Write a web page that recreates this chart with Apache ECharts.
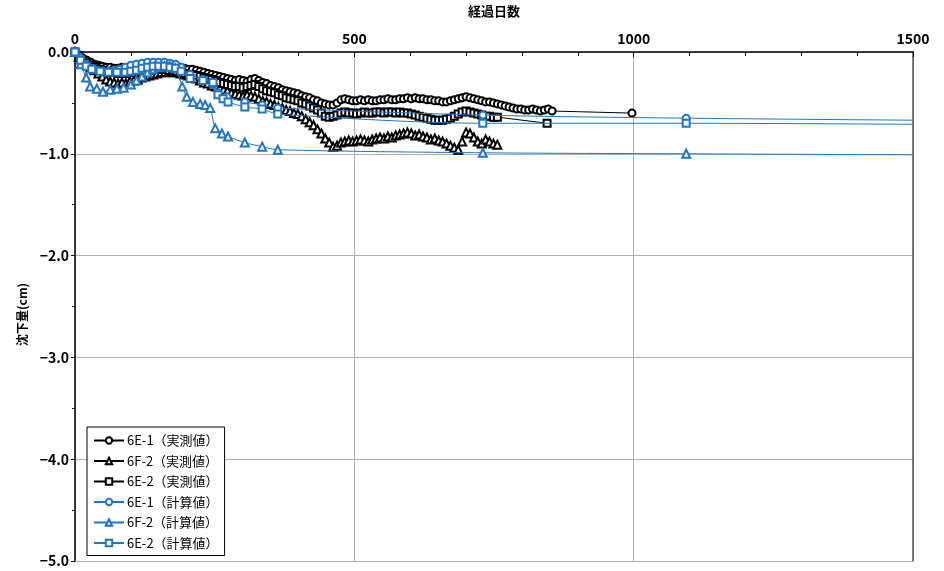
<!DOCTYPE html>
<html>
<head>
<meta charset="utf-8">
<script src="https://cdn.jsdelivr.net/npm/echarts@6/dist/echarts.min.js"></script>
<style>
  html, body { margin: 0; padding: 0; background: #fff; }
  #chart { width: 944px; height: 571px; }
</style>
</head>
<body>
<div id="chart"></div>
<script>
// Survey days shared by the measured settlement records
const surveyDays = [
  0, 7, 14, 21, 28, 35, 42, 49, 56, 63,
  70, 77, 84, 91, 98, 105, 112, 119, 126, 133,
  140, 147, 154, 161, 168, 175, 182, 189, 196, 203,
  210, 217, 224, 231, 238, 245, 252, 259, 266, 273,
  280, 287, 294, 301, 308, 315, 322, 329, 336, 343,
  350, 357, 364, 371, 378, 385, 392, 399, 406, 413,
  420, 427, 434, 441, 448, 455, 462, 469, 476, 483,
  490, 497, 504, 511, 518, 525, 532, 539, 546, 553,
  560, 567, 574, 581, 588, 595, 602, 609, 616, 623,
  630, 637, 644, 651, 658, 665, 672, 679, 686, 693,
  700, 707, 714, 721, 728, 735, 742, 749, 756
];
const e1LateDays = [763, 770, 777, 784, 791, 798, 805, 812, 819, 826, 833, 840, 847, 854, 997];
const e2LateDays = [845];

// Measured settlement (cm)
const measE1 = [
  0, -0.03, -0.06, -0.08, -0.10, -0.12, -0.13, -0.14, -0.15, -0.15,
  -0.16, -0.16, -0.15, -0.16, -0.15, -0.14, -0.14, -0.13, -0.13, -0.12,
  -0.12, -0.13, -0.12, -0.13, -0.13, -0.14, -0.14, -0.15, -0.16, -0.17,
  -0.17, -0.18, -0.19, -0.20, -0.21, -0.22, -0.23, -0.24, -0.25, -0.26,
  -0.27, -0.28, -0.27, -0.28, -0.29, -0.27, -0.26, -0.28, -0.30, -0.31,
  -0.33, -0.34, -0.35, -0.37, -0.38, -0.39, -0.40, -0.41, -0.43, -0.44,
  -0.45, -0.47, -0.48, -0.50, -0.51, -0.52, -0.52, -0.50, -0.47, -0.46,
  -0.47, -0.48, -0.48, -0.47, -0.48, -0.47, -0.48, -0.48, -0.47, -0.47,
  -0.46, -0.47, -0.47, -0.46, -0.46, -0.45, -0.46, -0.45, -0.46, -0.46,
  -0.47, -0.47, -0.48, -0.48, -0.49, -0.49, -0.48, -0.47, -0.46, -0.45,
  -0.44, -0.45, -0.46, -0.47, -0.48, -0.49, -0.49, -0.50, -0.51
];
const measE1Late = [-0.52, -0.53, -0.54, -0.55, -0.56, -0.56, -0.57, -0.57, -0.56, -0.57, -0.58, -0.57, -0.56, -0.58, -0.60];

const measF2 = [
  0, -0.05, -0.09, -0.12, -0.15, -0.18, -0.21, -0.24, -0.27, -0.29,
  -0.30, -0.31, -0.30, -0.31, -0.29, -0.28, -0.27, -0.25, -0.24, -0.23,
  -0.22, -0.21, -0.20, -0.20, -0.19, -0.20, -0.20, -0.21, -0.22, -0.23,
  -0.24, -0.26, -0.28, -0.30, -0.31, -0.33, -0.34, -0.35, -0.37, -0.38,
  -0.40, -0.41, -0.42, -0.43, -0.42, -0.43, -0.44, -0.46, -0.48, -0.49,
  -0.51, -0.52, -0.54, -0.55, -0.57, -0.58, -0.60, -0.61, -0.63, -0.66,
  -0.69, -0.72, -0.76, -0.80, -0.85, -0.89, -0.93, -0.92, -0.89, -0.88,
  -0.87, -0.88, -0.87, -0.86, -0.87, -0.88, -0.86, -0.85, -0.84, -0.85,
  -0.83, -0.84, -0.82, -0.81, -0.80, -0.79, -0.80, -0.82, -0.81, -0.83,
  -0.84, -0.86, -0.85, -0.87, -0.88, -0.90, -0.92, -0.94, -0.96, -0.88,
  -0.79, -0.80, -0.84, -0.88, -0.90, -0.86, -0.88, -0.90, -0.91
];

const measE2 = [
  0, -0.04, -0.08, -0.11, -0.13, -0.15, -0.17, -0.18, -0.19, -0.20,
  -0.20, -0.21, -0.21, -0.21, -0.20, -0.20, -0.19, -0.19, -0.18, -0.18,
  -0.17, -0.17, -0.17, -0.17, -0.18, -0.18, -0.19, -0.20, -0.21, -0.22,
  -0.22, -0.23, -0.24, -0.25, -0.26, -0.27, -0.28, -0.30, -0.31, -0.32,
  -0.33, -0.34, -0.34, -0.35, -0.34, -0.33, -0.32, -0.34, -0.36, -0.38,
  -0.39, -0.40, -0.42, -0.43, -0.45, -0.46, -0.47, -0.48, -0.50, -0.51,
  -0.53, -0.55, -0.57, -0.60, -0.63, -0.64, -0.63, -0.62, -0.60, -0.59,
  -0.60, -0.60, -0.61, -0.60, -0.59, -0.60, -0.60, -0.59, -0.59, -0.60,
  -0.59, -0.59, -0.60, -0.59, -0.60, -0.60, -0.61, -0.62, -0.63, -0.64,
  -0.65, -0.66, -0.67, -0.67, -0.67, -0.66, -0.65, -0.63, -0.61, -0.59,
  -0.58, -0.59, -0.60, -0.61, -0.62, -0.63, -0.63, -0.64, -0.64
];
const measE2Late = [-0.70];

// Computed settlement (cm)
const calcE1Days = [0, 10, 20, 30, 40, 50, 60, 70, 80, 90, 100, 110, 120, 130, 140, 150, 160, 170, 180, 190, 206, 229, 247, 256, 272, 304, 335, 363, 730, 1094, 1500];
const calcE1 = [0, -0.06, -0.12, -0.16, -0.18, -0.19, -0.19, -0.18, -0.17, -0.15, -0.13, -0.12, -0.11, -0.10, -0.10, -0.10, -0.10, -0.11, -0.12, -0.15, -0.22, -0.27, -0.32, -0.40, -0.44, -0.49, -0.52, -0.55, -0.62, -0.65, -0.67];

const calcF2Days = [0, 10, 20, 27, 39, 50, 63, 75, 87, 100, 110, 120, 130, 140, 150, 160, 170, 180, 192, 200, 211, 224, 233, 242, 251, 263, 274, 304, 335, 363, 730, 1094, 1500];
const calcF2 = [0, -0.12, -0.25, -0.34, -0.36, -0.39, -0.37, -0.36, -0.35, -0.32, -0.28, -0.24, -0.20, -0.17, -0.15, -0.14, -0.14, -0.16, -0.34, -0.44, -0.49, -0.51, -0.52, -0.55, -0.75, -0.80, -0.83, -0.89, -0.93, -0.96, -0.99, -1.00, -1.01];

const calcE2Days = [0, 10, 20, 30, 45, 60, 75, 90, 100, 110, 120, 130, 140, 150, 160, 170, 180, 190, 206, 229, 247, 256, 265, 274, 304, 335, 363, 730, 1094, 1500];
const calcE2 = [0, -0.08, -0.14, -0.17, -0.19, -0.20, -0.20, -0.20, -0.19, -0.18, -0.16, -0.15, -0.14, -0.14, -0.14, -0.15, -0.16, -0.19, -0.26, -0.28, -0.30, -0.42, -0.46, -0.49, -0.54, -0.56, -0.61, -0.70, -0.70, -0.71];

const seriesNames = ['6E-1（実測値）', '6F-2（実測値）', '6E-2（実測値）', '6E-1（計算値）', '6F-2（計算値）', '6E-2（計算値）'];
const xTicks = [0, 500, 1000, 1500];

const BLACK = '#000000';
const BLUE = '#1f76c6';

function pairs(days, vals) {
  return days.map((d, i) => [d, vals[i]]);
}
// last point of a computed curve sits on the right frame and carries no marker
function calcPairs(days, vals) {
  return days.map((d, i) => i === days.length - 1
    ? { value: [d, vals[i]], symbol: 'none' }
    : [d, vals[i]]);
}

function lineSeries(name, data, color, symbol, smooth) {
  return {
    name: name,
    type: 'line',
    data: data,
    symbol: symbol,
    symbolSize: symbol === 'emptyTriangle' ? 8 : 7,
    smooth: smooth,
    showAllSymbol: true,
    clip: true,
    lineStyle: { color: color, width: 1 },
    itemStyle: { color: color, borderColor: color, borderWidth: 0.8 },
    emphasis: { disabled: true },
    animation: false,
    z: color === BLUE ? 3 : 2
  };
}

const fontFamily = '"Liberation Sans Narrow", "Noto Sans CJK JP", sans-serif';

const chart = echarts.init(document.getElementById('chart'), null, { renderer: 'canvas' });
chart.setOption({
  backgroundColor: '#ffffff',
  animation: false,
  grid: { left: 75, right: 31, top: 50, bottom: 10 },
  legend: {
    orient: 'vertical',
    left: 87,
    top: 427,
    padding: [7, 6, 6, 6],
    itemGap: 7.5,
    itemWidth: 30,
    itemHeight: 8,
    backgroundColor: '#ffffff',
    borderColor: '#000000',
    borderWidth: 1,
    borderRadius: 0,
    data: seriesNames,
    textStyle: { fontSize: 13, color: '#000', fontFamily: '"Noto Sans CJK JP", sans-serif', padding: [0, 0, 0, -2] },
    selectedMode: false
  },
  xAxis: [{
    type: 'value',
    position: 'top',
    min: 0,
    max: 1500,
    interval: 500,
    name: '経過日数',
    nameLocation: 'middle',
    nameGap: 34,
    nameTextStyle: { fontSize: 13, fontWeight: 'bold', color: '#000', fontFamily: '"Noto Sans CJK JP", sans-serif' },
    axisLine: { show: true, onZero: false, lineStyle: { color: '#000', width: 1.5 } },
    axisTick: { show: true, inside: true, length: 5, lineStyle: { color: '#000' } },
    minorTick: { show: true, splitNumber: 5, length: 4, lineStyle: { color: '#000' } },
    axisLabel: {
      fontSize: 14, fontWeight: 'bold', color: '#000', fontFamily: fontFamily, margin: 6,
      formatter: v => xTicks.includes(v) ? String(v) : ''
    },
    splitLine: { show: true, lineStyle: { color: '#b0b0b0', width: 1 } }
  }, {
    type: 'value',
    position: 'bottom',
    min: 0,
    max: 1500,
    axisLine: { show: true, onZero: false, lineStyle: { color: '#b0b0b0', width: 1 } },
    axisTick: { show: false },
    axisLabel: { show: false },
    splitLine: { show: false }
  }],
  yAxis: [{
    type: 'value',
    min: -5,
    max: 0,
    interval: 1,
    name: '沈下量(cm)',
    nameLocation: 'middle',
    nameRotate: 90,
    nameGap: 44,
    nameTextStyle: { fontSize: 12, fontWeight: 'bold', color: '#000', fontFamily: '"Noto Sans CJK JP", sans-serif', padding: [0, 0, 0, -16] },
    axisLine: { show: true, onZero: false, lineStyle: { color: '#000', width: 1.5 } },
    axisTick: { show: true, inside: false, length: 4, lineStyle: { color: '#000' } },
    minorTick: { show: true, splitNumber: 2, length: 3, lineStyle: { color: '#000' } },
    axisLabel: {
      fontSize: 14, fontWeight: 'bold', color: '#000', fontFamily: fontFamily, margin: 6,
      formatter: v => (v === 0 ? '0.0' : '\u2212' + Math.abs(v).toFixed(1))
    },
    splitLine: { show: true, lineStyle: { color: '#b0b0b0', width: 1 } }
  }, {
    type: 'value',
    position: 'right',
    min: -5,
    max: 0,
    interval: 1,
    axisLine: { show: true, onZero: false, lineStyle: { color: '#555', width: 1.5 } },
    axisTick: { show: false },
    axisLabel: { show: false },
    splitLine: { show: false }
  }],
  series: [
    lineSeries(seriesNames[0], pairs(surveyDays.concat(e1LateDays), measE1.concat(measE1Late)), BLACK, 'emptyCircle', false),
    lineSeries(seriesNames[1], pairs(surveyDays, measF2), BLACK, 'emptyTriangle', false),
    lineSeries(seriesNames[2], pairs(surveyDays.concat(e2LateDays), measE2.concat(measE2Late)), BLACK, 'emptyRect', false),
    lineSeries(seriesNames[3], calcPairs(calcE1Days, calcE1), BLUE, 'emptyCircle', 0.3),
    lineSeries(seriesNames[4], calcPairs(calcF2Days, calcF2), BLUE, 'emptyTriangle', 0.3),
    lineSeries(seriesNames[5], calcPairs(calcE2Days, calcE2), BLUE, 'emptyRect', 0.3)
  ]
});
</script>
</body>
</html>
